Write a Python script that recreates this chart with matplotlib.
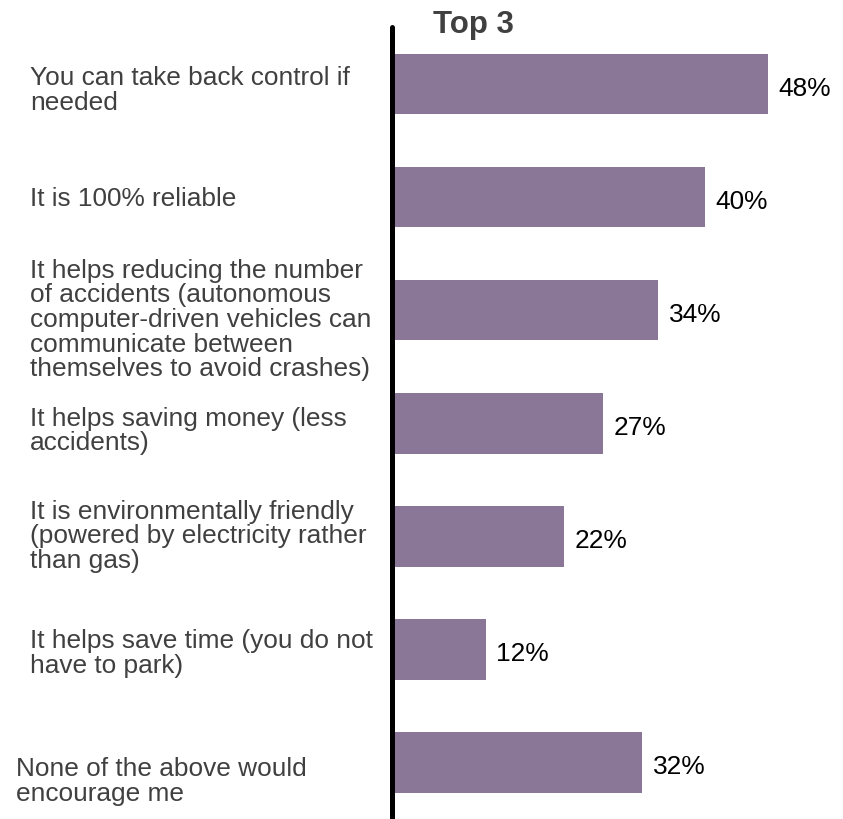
import matplotlib.pyplot as plt
import matplotlib.transforms as mtransforms

plt.rcParams['font.family'] = ['Liberation Sans', 'DejaVu Sans']

# ----------  Data  ----------

reasons = [
    "You can take back control if\nneeded",
    "It is 100% reliable",
    "It helps reducing the number\nof accidents (autonomous\ncomputer-driven vehicles can\ncommunicate between\nthemselves to avoid crashes)",
    "It helps saving money (less\naccidents)",
    "It is environmentally friendly\n(powered by electricity rather\nthan gas)",
    "It helps save time (you do not\nhave to park)",
    "None of the above would\nencourage me",
]
shares = [48, 40, 34, 27, 22, 12, 32]
title = "Top 3"

# ----------  Layout  ----------

W, H = 843, 819
x0_px = 391.5          # pixel of 0 %
px_per_pct = 7.84
label_x_px = [30, 30, 30, 30, 30, 30, 16]
label_dy_px = [4, -1, 7, 5, -3, 1, 16]   # nudges to match the original text placement

bar_color = '#8a7797'
text_grey = '#404040'

fig = plt.figure(figsize=(W / 100, H / 100), dpi=100)
ax = fig.add_axes([x0_px / W, 0, (W - x0_px) / W, 792 / H])

y = list(range(len(shares)))
ax.barh(y, shares, height=0.535, color=bar_color)
ax.set_xlim(0, (W - x0_px) / px_per_pct)
ax.set_ylim(6.498, -0.504)
ax.axis('off')

ax.axvline(0, color='black', lw=3.6, solid_capstyle='round', clip_on=False)

for i, v in enumerate(shares):
    ax.annotate(f"{v}%", (v, i), xytext=(7.5, -3.4), textcoords='offset points',
                va='center', ha='left', fontsize=18.9, color='black')

blend = mtransforms.blended_transform_factory(fig.transFigure, ax.transData)
for i, lab in enumerate(reasons):
    shift = mtransforms.ScaledTranslation(0, -(label_dy_px[i] + 2.75) / 100, fig.dpi_scale_trans)
    fig.text(label_x_px[i] / W, i, lab, transform=blend + shift,
             ha='left', va='center', fontsize=18.9, color=text_grey, linespacing=1.03)

fig.text(473.5 / W, 1 - 33.3 / H, title, ha='center', va='baseline',
         fontsize=22.5, fontweight='bold', color=text_grey)

fig.savefig("out.png", dpi=100)
